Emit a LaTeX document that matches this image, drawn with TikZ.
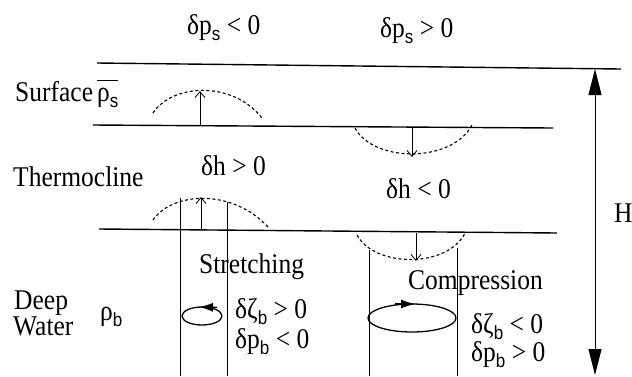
\documentclass[tikz,border=0pt]{standalone}
\usepackage{graphicx}
\usepackage{fontspec}
\setmainfont{Liberation Serif}
\setsansfont{Liberation Sans}
\usetikzlibrary{arrows.meta}
\newcommand\sbs[1]{\raisebox{-0.22em}{\fontsize{17}{20}\selectfont\sffamily #1}}
\newcommand\tall[1]{\scalebox{1}[1.12]{#1}}
\tikzset{
  txt/.style={font=\fontsize{25.5}{30}\selectfont, inner sep=0pt, anchor=base west},
  layer/.style={line width=1.4pt},
  pert/.style={line width=1.1pt, dash pattern=on 3pt off 2.5pt},
  disp/.style={line width=0.8pt, -{Straight Barb[length=6pt,width=10pt]}},
  column/.style={line width=0.8pt},
  vortex/.style={line width=1.3pt},
  vtip/.style={line width=1.3pt, -{Latex[length=14pt,width=9pt]}},
  depth/.style={line width=1pt, {Triangle[length=26pt,width=13pt]}-{Triangle[length=26pt,width=13pt]}}
}
\begin{document}
\begin{tikzpicture}[x=1pt,y=-1pt]
\useasboundingbox[fill=white] (0,0) rectangle (632,376);
% layer interfaces
\draw[layer] (97,63) -- (621,69);
\draw[layer] (93,125) -- (553,128);
\draw[layer] (99,229) -- (557,233);
% dashed interface displacements
\draw[pert] (153,113) .. controls (172,84) and (232,80) .. (262,118);
\draw[pert] (355,128) .. controls (374,163) and (452,163) .. (472,125);
\draw[pert] (153,220) .. controls (172,192) and (232,188) .. (268,227);
\draw[pert] (357,235) .. controls (375,268) and (448,268) .. (465,233);
% displacement arrows
\coordinate (a1s) at (200,125); \coordinate (a1e) at (200,91);
\coordinate (a2s) at (412,128); \coordinate (a2e) at (412,157);
\coordinate (a3s) at (201,230); \coordinate (a3e) at (201,197);
\coordinate (a4s) at (416,233); \coordinate (a4e) at (416,261);
\draw[disp] (a1s) -- (a1e);
\draw[disp] (a2s) -- (a2e);
\draw[disp] (a3s) -- (a3e);
\draw[disp] (a4s) -- (a4e);
% columns
\draw[column] (180,198) -- (180,376);
\draw[column] (227,202) -- (227,376);
\draw[column] (369,250) -- (369,376);
\draw[column] (457,248) -- (457,376);
% vortices
\draw[vortex] (202,316) ellipse [x radius=20, y radius=9];
\draw[vtip] (217,307.4) -- (199,307);
\draw[vortex] (412,318) ellipse [x radius=44, y radius=14];
\draw[vtip] (395,304) -- (415,304);
% depth arrow
\coordinate (Htop) at (595,69);
\coordinate (Hbot) at (595,375);
\draw[depth] (Htop) -- (Hbot);
% labels
\node[txt] (ps1) at (187,34) {\tall{δp\sbs{s} < 0}};
\node[txt] (ps2) at (380,37) {\tall{δp\sbs{s} > 0}};
\node[txt] (surf) at (15,101) {\tall{Surface}};
\node[txt] (rhos) at (97,101) {\tall{$\overline{\mbox{\vphantom{A}ρ\sbs{s}}}$}};
\node[txt] (thermo) at (13,186) {\tall{Thermocline}};
\node[txt] (dh1) at (201,175) {\tall{δh > 0}};
\node[txt] (dh2) at (386,198) {\tall{δh < 0}};
\node[txt] (stretch) at (199,273) {\tall{Stretching}};
\node[txt] (compr) at (408,289) {\tall{Compression}};
\node[txt] (deep) at (14,309) {\tall{Deep}};
\node[txt] (water) at (13,335) {\tall{Water}};
\node[txt] (rhob) at (100,320) {\tall{ρ\sbs{b}}};
\node[txt] (z1) at (235,318) {\tall{δζ\sbs{b} > 0}};
\node[txt] (pb1) at (235,348) {\tall{δp\sbs{b} < 0}};
\node[txt] (z2) at (471,333) {\tall{δζ\sbs{b} < 0}};
\node[txt] (pb2) at (471,361) {\tall{δp\sbs{b} > 0}};
\node[txt] (H) at (614,222) {\tall{H}};
\end{tikzpicture}
\end{document}
